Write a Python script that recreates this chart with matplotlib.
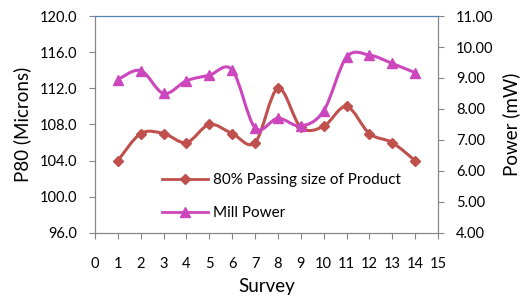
import matplotlib
matplotlib.use("Agg")
import matplotlib.pyplot as plt
from matplotlib.path import Path
from matplotlib.patches import PathPatch
from matplotlib.lines import Line2D

plt.rcParams['font.family'] = ['Lato', 'DejaVu Sans']

# Data
survey = [1, 2, 3, 4, 5, 6, 7, 8, 9, 10, 11, 12, 13, 14]
p80 = [104, 107, 107, 106, 108, 107, 106, 112, 107.7, 107.8, 110, 107, 106, 104]
power = [8.95, 9.24, 8.50, 8.91, 9.09, 9.26, 7.39, 7.70, 7.45, 7.94, 9.67, 9.74, 9.47, 9.17]

red = '#c0504d'
magenta = '#cc46bd'
spine_c = '#868686'


def smooth_path(xs, ys):
    # Excel-style smoothed line: cubic Bezier segments through the points
    pts = list(zip(xs, ys))
    verts = [pts[0]]
    codes = [Path.MOVETO]
    n = len(pts)
    for i in range(n - 1):
        p0 = pts[i - 1] if i > 0 else pts[i]
        p1 = pts[i]
        p2 = pts[i + 1]
        p3 = pts[i + 2] if i + 2 < n else pts[i + 1]
        c1 = (p1[0] + (p2[0] - p0[0]) / 6, p1[1] + (p2[1] - p0[1]) / 6)
        c2 = (p2[0] - (p3[0] - p1[0]) / 6, p2[1] - (p3[1] - p1[1]) / 6)
        verts += [c1, c2, p2]
        codes += [Path.CURVE4] * 3
    return Path(verts, codes)


fig = plt.figure(figsize=(5.28, 3.06), dpi=100)
ax = fig.add_axes([0.18, 0.2386, 0.6495, 0.7091])
ax2 = ax.twinx()

ax.add_patch(PathPatch(smooth_path(survey, p80), facecolor='none', edgecolor=red, lw=2.2))
ax.plot(survey, p80, linestyle='none', marker='D', ms=5, color=red)

ax2.add_patch(PathPatch(smooth_path(survey, power), facecolor='none', edgecolor=magenta, lw=2.2))
ax2.plot(survey, power, linestyle='none', marker='^', ms=7.5, color=magenta)

ax.set_xlim(0, 15)
ax.set_ylim(96, 120)
ax2.set_ylim(4, 11)
ax.set_xticks(range(0, 16))
ax.set_yticks([96, 100, 104, 108, 112, 116, 120])
ax.set_yticklabels([f"{v:.1f}" for v in [96, 100, 104, 108, 112, 116, 120]])
ax2.set_yticks(range(4, 12))
ax2.set_yticklabels([f"{v:.2f}" for v in range(4, 12)])

for a in (ax, ax2):
    for s in ('left', 'right', 'bottom'):
        a.spines[s].set_color(spine_c)
    a.spines['top'].set_color('#4f81bd')
ax.tick_params(axis='x', direction='out', length=4, color=spine_c, pad=13, labelsize=10.5)
ax.tick_params(axis='y', direction='out', length=4, color=spine_c, pad=9, labelsize=10.5)
ax2.tick_params(axis='y', direction='out', length=4, color=spine_c, pad=9, labelsize=10.5)

ax.set_xlabel("Survey", fontsize=13.5, labelpad=5)
ax.set_ylabel("P80 (Microns)", fontsize=13.5, labelpad=6)
ax2.set_ylabel("Power (mW)", fontsize=13.5, labelpad=6)

handles = [Line2D([], [], color=red, lw=2, marker='D', ms=5),
           Line2D([], [], color=magenta, lw=2, marker='^', ms=7)]
ax2.legend(handles, ["80% Passing size of Product", "Mill Power"],
           loc='upper left', bbox_to_anchor=(0.307, 0.435), bbox_transform=fig.transFigure,
           frameon=False, fontsize=11, handlelength=3.0, labelspacing=1.25,
           handletextpad=0.3, borderpad=0, borderaxespad=0)

fig.savefig("out.png", dpi=100)
